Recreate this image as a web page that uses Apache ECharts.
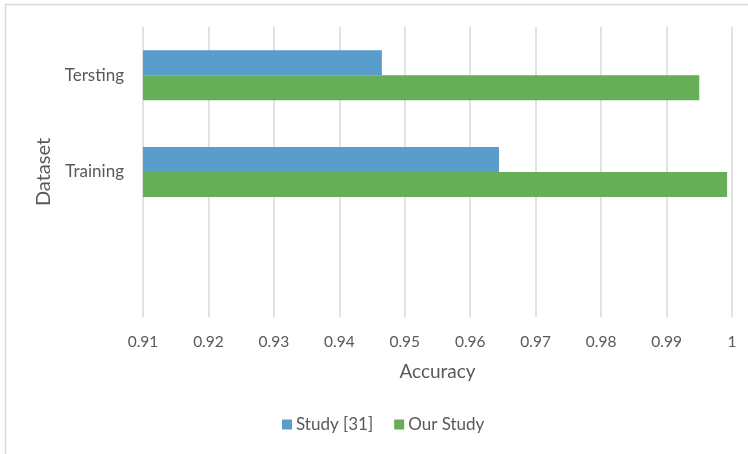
<!DOCTYPE html>
<html>
<head>
<meta charset="utf-8">
<script src="https://cdn.jsdelivr.net/npm/echarts@6/dist/echarts.min.js"></script>
<style>
  html, body { margin: 0; padding: 0; background: #fff; }
  #chart { width: 748px; height: 454px; }
</style>
</head>
<body>
<div id="chart"></div>
<script>
// categories bottom -> top (the bottom slot is empty in the original)
var datasets = ['', 'Training', 'Tersting'];
var studyValues = [null, 0.9644, 0.9465];
var ourValues = [null, 0.99925, 0.995];
var colors = ['#5a9dcd', '#66ae57'];
var font = 'Lato, "Open Sans", sans-serif';
var textColor = '#595959';

var chart = echarts.init(document.getElementById('chart'));
chart.setOption({
  animation: false,
  color: colors,
  textStyle: { fontFamily: font },
  grid: { left: 143, right: 16, top: 27, bottom: 137, containLabel: false },
  legend: {
    data: ['Study [31]', 'Our Study'],
    bottom: 16,
    left: 277,
    itemWidth: 10,
    itemHeight: 10,
    itemGap: 21,
    icon: 'rect',
    textStyle: { fontSize: 17, color: textColor, fontFamily: font, padding: [0, 0, 0, -1] }
  },
  xAxis: {
    type: 'value',
    min: 0.91,
    max: 1,
    interval: 0.01,
    name: 'Accuracy',
    nameLocation: 'middle',
    nameGap: 45,
    nameTextStyle: { fontSize: 19, color: textColor, fontFamily: font },
    axisLine: { show: false },
    axisTick: { show: false },
    axisLabel: {
      fontSize: 15.5, color: textColor, margin: 17,
      formatter: function (v) { return parseFloat(v.toFixed(2)).toString(); }
    },
    splitLine: { show: true, lineStyle: { color: '#d9d9d9', width: 1.5 } }
  },
  yAxis: {
    type: 'category',
    data: datasets,
    name: 'Dataset',
    nameLocation: 'middle',
    nameGap: 86,
    nameRotate: 90,
    nameTextStyle: { fontSize: 20, color: textColor, fontFamily: font },
    axisLine: { show: false },
    axisTick: { show: false },
    axisLabel: { fontSize: 17, color: textColor, margin: 19 }
  },
  series: [
    {
      name: 'Study [31]',
      type: 'bar',
      data: studyValues,
      barWidth: 25,
      barGap: '0%',
      itemStyle: { color: colors[0] }
    },
    {
      name: 'Our Study',
      type: 'bar',
      data: ourValues,
      barWidth: 25,
      barGap: '0%',
      itemStyle: { color: colors[1] }
    }
  ],
  graphic: [
    { type: 'line', shape: { x1: 5, y1: 4.5, x2: 748, y2: 4.5 }, style: { stroke: '#d9d9d9', lineWidth: 1.5 } },
    { type: 'line', shape: { x1: 5.5, y1: 4, x2: 5.5, y2: 454 }, style: { stroke: '#d9d9d9', lineWidth: 1.5 } }
  ]
});
</script>
</body>
</html>
